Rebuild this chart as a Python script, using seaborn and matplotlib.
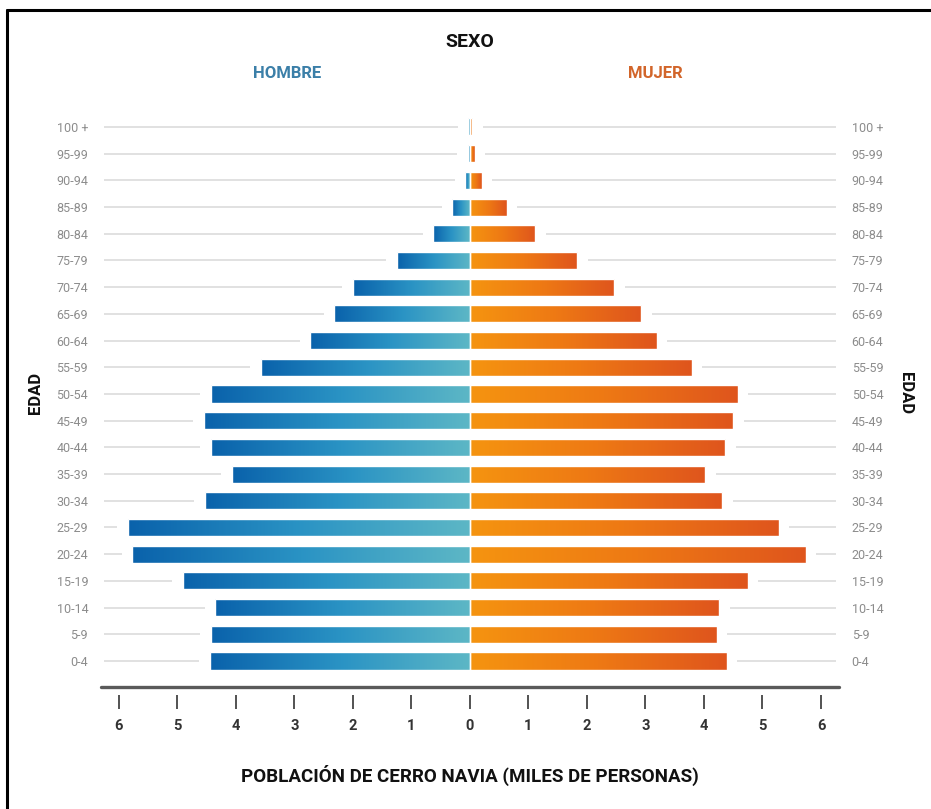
import numpy as np
import pandas as pd
import matplotlib.pyplot as plt
import seaborn as sns
from matplotlib.colors import LinearSegmentedColormap
from matplotlib.lines import Line2D

# datos: poblacion de Cerro Navia por edad (miles de personas)
ages = ['100 +', '95-99', '90-94', '85-89', '80-84', '75-79', '70-74', '65-69',
        '60-64', '55-59', '50-54', '45-49', '40-44', '35-39', '30-34', '25-29',
        '20-24', '15-19', '10-14', '5-9', '0-4']
hombre = [0.03, 0.04, 0.08, 0.30, 0.63, 1.25, 2.00, 2.32, 2.73, 3.58, 4.43,
          4.55, 4.43, 4.07, 4.53, 5.85, 5.77, 4.91, 4.35, 4.43, 4.45]
mujer = [0.04, 0.08, 0.20, 0.63, 1.12, 1.83, 2.47, 2.93, 3.19, 3.79, 4.58,
         4.50, 4.36, 4.02, 4.31, 5.28, 5.74, 4.75, 4.26, 4.22, 4.39]
ticks = [-6, -5, -4, -3, -2, -1, 0, 1, 2, 3, 4, 5, 6]
tick_labels = ['6', '5', '4', '3', '2', '1', '0', '1', '2', '3', '4', '5', '6']

df = pd.DataFrame({'Edad': ages, 'Hombre': hombre, 'Mujer': mujer})
df['Hombre_neg'] = -df['Hombre']

sns.set_style('white')
plt.rcParams['font.family'] = ['Roboto', 'DejaVu Sans']

fig = plt.figure(figsize=(9.31, 8.09), dpi=100)
ax = fig.add_axes([0.1089, 0.141, 0.7918, 0.7285])

sns.barplot(data=df, x='Hombre_neg', y='Edad', orient='h', color='#1f7fbf',
            width=0.64, errorbar=None, ax=ax)
sns.barplot(data=df, x='Mujer', y='Edad', orient='h', color='#f07d14',
            width=0.64, errorbar=None, ax=ax)

# degradados dentro de cada barra
cmap_h = LinearSegmentedColormap.from_list('h', ['#0a62ab', '#2a93c4', '#5db7c6'])
cmap_m = LinearSegmentedColormap.from_list('m', ['#f59410', '#ee7914', '#df551d'])
grad = np.linspace(0, 1, 256).reshape(1, -1)
for p in list(ax.patches):
    x0, x1 = sorted([p.get_x(), p.get_x() + p.get_width()])
    y0, y1 = sorted([p.get_y(), p.get_y() + p.get_height()])
    cm = cmap_h if x1 <= 0.0001 else cmap_m
    im = ax.imshow(grad, extent=[x0, x1, y1, y0], aspect='auto', cmap=cm,
                   zorder=2, interpolation='bicubic')
    im.set_clip_path(p)
    p.set_facecolor('none')
    p.set_edgecolor('white')
    p.set_linewidth(1.0)
    p.set_zorder(3)

# lineas guia grises que se cortan antes de las barras
pos = np.arange(len(ages))
ax.hlines(pos, -6.25, -(df['Hombre'] + 0.18), color='#d8d8d8', lw=1.1, zorder=1)
ax.hlines(pos, df['Mujer'] + 0.18, 6.25, color='#d8d8d8', lw=1.1, zorder=1)

ax.set_xlim(-6.3, 6.3)
ax.set_ylim(21.27, -0.8)
ax.axhline(20.97, color='#5a5a5a', lw=2.4, clip_on=False, zorder=4)

for s in ax.spines.values():
    s.set_visible(False)

ax.set_xticks(ticks)
ax.set_xticklabels(tick_labels, fontsize=10.5, fontweight='bold', color='#333333')
ax.tick_params(axis='x', bottom=True, direction='out', length=10, width=1.3,
               color='#444444', pad=7)
ax.tick_params(axis='y', left=False, right=False, labelleft=True, labelright=True,
               labelsize=9, labelcolor='#8c8c8c', pad=6)
ax.set_xlabel('')
ax.set_ylabel('')

fig.text(0.505, 0.948, 'SEXO', ha='center', va='center', fontsize=14,
         fontweight='bold', color='#111111')
fig.text(0.308, 0.909, 'HOMBRE', ha='center', va='center', fontsize=12,
         fontweight='bold', color='#3b7fa8')
fig.text(0.704, 0.909, 'MUJER', ha='center', va='center', fontsize=12,
         fontweight='bold', color='#d2652a')
fig.text(0.038, 0.514, 'EDAD', ha='center', va='center', rotation=90,
         fontsize=12, fontweight='bold', color='#111111')
fig.text(0.973, 0.514, 'EDAD', ha='center', va='center', rotation=270,
         fontsize=12, fontweight='bold', color='#111111')
fig.text(0.505, 0.041, 'POBLACIÓN DE CERRO NAVIA (MILES DE PERSONAS)', ha='center',
         va='center', fontsize=13.5, fontweight='bold', color='#111111')

# marco superior e izquierdo
fig.add_artist(Line2D([0.0075, 1.0], [0.9876, 0.9876], color='black', lw=2.2))
fig.add_artist(Line2D([0.0075, 0.0075], [0.0, 0.9876], color='black', lw=2.2))

plt.savefig('out.png', dpi=100)
